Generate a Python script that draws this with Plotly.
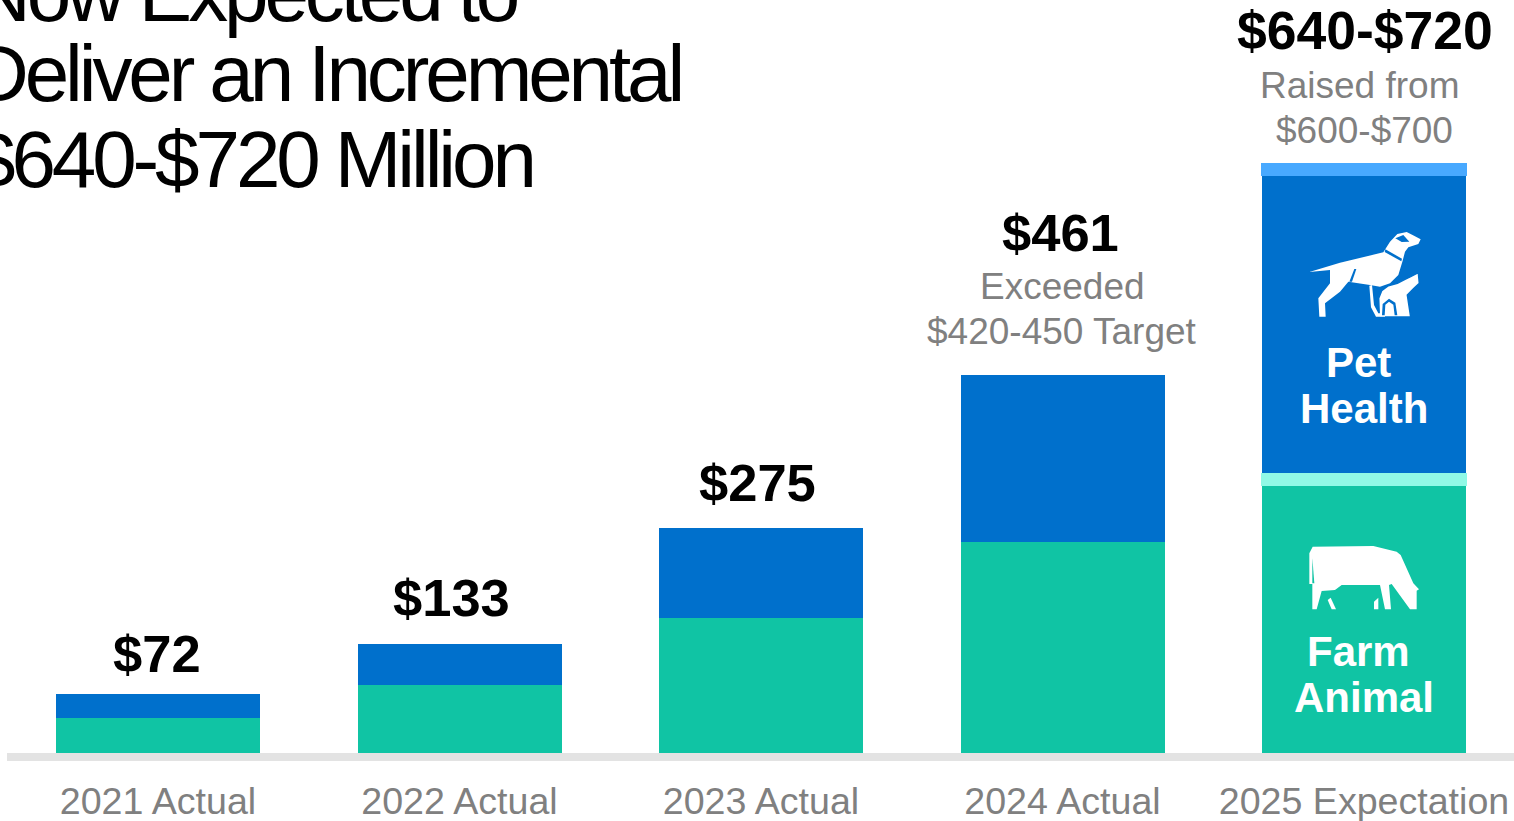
import plotly.graph_objects as go

WIDTH, HEIGHT = 1514, 821
PLOT_HEIGHT = 753
FONT = "Liberation Sans"

# Chart data, in $ millions
categories = ["2021 Actual", "2022 Actual", "2023 Actual", "2024 Actual", "2025 Expectation"]
farm_animal = [43, 83, 165, 257, 326]
farm_range = [None, None, None, None, 16]
pet_health = [29, 50, 110, 204, 362]
pet_range = [None, None, None, None, 16]
total_labels = ["$72", "$133", "$275", "$461", "$640-$720"]

TEAL = "#10C4A4"
MINT = "#90F9E6"
BLUE = "#0070CC"
SKY = "#48A9FF"
GRAY = "#808080"


def px_x(x):
    return x / WIDTH


def px_y(y):
    # Paper units span the plot area, which ends at the baseline
    return 1 - y / PLOT_HEIGHT


def icon_path(points, ox, oy):
    """Closed SVG path in paper units from points given at 3x scale around an origin."""
    coords = [f"{px_x(ox + x / 3):.5f},{px_y(oy + y / 3):.5f}" for x, y in points]
    return "M" + " L".join(coords) + " Z"


fig = go.Figure()
for values, color, width, name in [
    (farm_animal, TEAL, 0.6766, "Farm Animal"),
    (farm_range, MINT, 0.683, "Farm Animal range"),
    (pet_health, BLUE, 0.6766, "Pet Health"),
    (pet_range, SKY, 0.683, "Pet Health range"),
]:
    fig.add_trace(go.Bar(x=list(range(5)), y=values, name=name, width=width,
                         marker=dict(color=color, line=dict(width=0)), hoverinfo="skip"))

annotations = []


def label(text, x, y, size, color, bold=False, anchor="center"):
    annotations.append(dict(
        text=f"<b>{text}</b>" if bold else text,
        xref="paper", yref="paper", x=px_x(x), y=px_y(y),
        xanchor=anchor, yanchor="middle", align="left" if anchor == "left" else "center",
        showarrow=False, font=dict(family=FONT, size=size, color=color),
    ))


# Headline, running off the top and left of the page
label("Now Expected to", -29, -7, 80, "#000000", anchor="left")
label("Deliver an Incremental", -31, 73, 80, "#000000", anchor="left")
label("$640-$720 Million", -31, 159, 80, "#000000", anchor="left")

# Totals above the bars
positions = [(157, 653), (451, 597), (757, 482), (1060, 233), (1364.5, 31)]
sizes = [52.5, 52.5, 52.5, 52.5, 53.5]
for text, (x, y), size in zip(total_labels, positions, sizes):
    label(text, x, y, size, "#000000", bold=True)

# Target notes
label("Exceeded", 1062, 286, 37, GRAY)
label("$420-450 Target", 1062, 331, 37, GRAY)
label("Raised from", 1359.5, 85, 37, GRAY)
label("$600-$700", 1364, 130, 37, GRAY)

# Segment captions on the 2025 bar
label("Pet", 1358, 362, 42, "white", bold=True)
label("Health", 1364, 409, 42, "white", bold=True)
label("Farm", 1358, 651, 42, "white", bold=True)
label("Animal", 1364, 697, 42, "white", bold=True)

shapes = [dict(type="rect", xref="paper", yref="paper", layer="above", line=dict(width=0),
               fillcolor="#E3E3E3", x0=px_x(7), x1=1, y0=px_y(761), y1=px_y(753))]


def icon(points, ox, oy, fill="white", line=None):
    shapes.append(dict(type="path", xref="paper", yref="paper", layer="above",
                       path=icon_path(points, ox, oy), fillcolor=fill,
                       line=dict(width=line[1], color=line[0]) if line else dict(width=0)))


# Dog and cat glyph
DOG_X, DOG_Y = 1290, 220
icon([(58, 156), (120, 150), (120, 190), (85, 235), (88, 290), (107, 290), (105, 250), (150, 215),
      (175, 185), (240, 195), (270, 200), (300, 190), (325, 165), (338, 122), (345, 95), (355, 82),
      (385, 72), (392, 58), (372, 47), (350, 36), (322, 42), (300, 65), (280, 97), (150, 128)], DOG_X, DOG_Y)
icon([(286, 88), (336, 116), (334, 124), (284, 96)], DOG_X, DOG_Y, BLUE)
icon([(316, 55), (340, 45), (358, 65), (335, 66)], DOG_X, DOG_Y, BLUE)
icon([(193, 147), (199, 147), (186, 185), (178, 185)], DOG_X, DOG_Y, BLUE)
icon([(268, 291), (266, 235), (275, 212), (295, 197), (322, 190), (345, 178), (362, 170), (385, 158),
      (388, 190), (372, 205), (352, 225), (362, 291)], DOG_X, DOG_Y, line=(BLUE, 1.5))
icon([(238, 197), (246, 195), (252, 255), (265, 280), (285, 280), (285, 290), (258, 290), (243, 262)], DOG_X, DOG_Y)
icon([(276, 286), (278, 252), (297, 236), (316, 248), (322, 286), (314, 286), (310, 254), (297, 245),
      (286, 254), (284, 286)], DOG_X, DOG_Y, BLUE)

# Cow glyph
COW_X, COW_Y = 1290, 530
icon([(58, 162), (58, 70), (68, 50), (250, 48), (320, 65), (332, 75), (370, 160), (387, 178), (380, 182),
      (380, 238), (360, 238), (305, 162), (297, 165), (303, 238), (285, 238), (270, 165), (155, 165),
      (135, 180), (95, 183), (80, 238), (67, 238), (67, 162)], COW_X, COW_Y)
icon([(67, 85), (73, 160), (67, 160)], COW_X, COW_Y, TEAL)
icon([(113, 210), (122, 203), (138, 238), (125, 238)], COW_X, COW_Y)
icon([(252, 215), (265, 203), (265, 238), (252, 238)], COW_X, COW_Y)

fig.update_layout(
    width=WIDTH, height=HEIGHT, barmode="stack", showlegend=False,
    paper_bgcolor="white", plot_bgcolor="white",
    margin=dict(l=0, r=0, t=0, b=68, pad=0),
    bargap=0.32,
    annotations=annotations, shapes=shapes,
    xaxis=dict(range=[-158 / 301.5, (1514 - 158) / 301.5], tickmode="array", tickvals=list(range(5)),
               ticktext=categories, showgrid=False, zeroline=False, showline=False, ticks="",
               automargin=False,
               ticklabelstandoff=22, tickfont=dict(family=FONT, size=37.6, color=GRAY)),
    yaxis=dict(range=[0, 753 / 0.82], visible=False),
)

# The headline is set tight
tighten = """
document.querySelectorAll('.annotation-text').forEach(function (t) {
  if (parseFloat(t.style.fontSize) === 80) { t.style.letterSpacing = '-4.1px'; }
});
"""
fig.write_html("out.html", post_script=tighten, config={"displayModeBar": False})
